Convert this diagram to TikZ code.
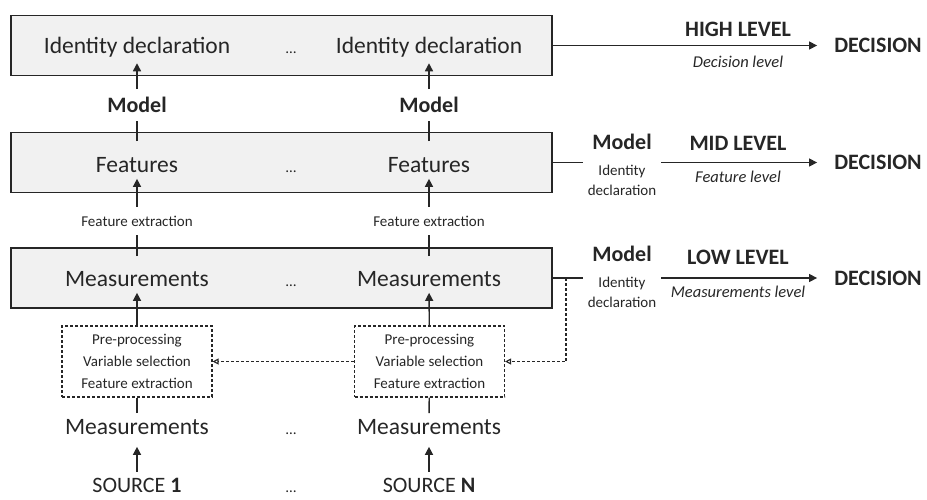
\documentclass[tikz,border=0pt]{standalone}
\usepackage{fontspec}
\setmainfont{Carlito}
\usepackage{xcolor}
\usetikzlibrary{arrows.meta}

\definecolor{ink}{HTML}{262626}
\definecolor{boxfill}{HTML}{F1F1F1}

\begin{document}
\begin{tikzpicture}[x=1pt, y=-1pt, color=ink, text=ink,
        levelbox/.style={draw, line width=1.8pt, fill=boxfill, minimum width=541, minimum height=60},
        big/.style={font=\fontsize{23.5}{28}\selectfont, inner sep=6pt},
        small/.style={font=\fontsize{15}{20}\selectfont, inner xsep=2pt, inner ysep=9pt},
        bold/.style={font=\fontsize{22}{26}\selectfont\bfseries, inner xsep=2pt, inner ysep=8pt},
        note/.style={font=\fontsize{16.5}{20}\selectfont\itshape, inner sep=2pt},
        dots/.style={font=\fontsize{15}{20}\selectfont, anchor=base, inner sep=0pt},
        group/.style={align=center, font=\fontsize{15}{20}\selectfont, inner sep=5pt},
        stepbox/.style={draw, line width=1.1pt, dash pattern=on 3pt off 2pt, minimum width=150, minimum height=71,
            align=center, font=\fontsize{15}{22}\selectfont},
        ln/.style={line width=1.4pt},
        arr/.style={line width=1.4pt, -{Triangle[length=8pt,width=8pt]}},
        fback/.style={line width=1.1pt, dash pattern=on 3pt off 2pt, -{Triangle[open,length=6pt,width=6pt]}}]
    \useasboundingbox (0,0) rectangle (927,499);

    \node[levelbox] (hbox) at (281.5,45.5) {};
    \node[levelbox] (fbox) at (281.5,162.5) {};
    \node[levelbox] (mbox) at (281.5,278) {};

    \node[big] (id1) at (137,47) {Identity declaration};
    \node[big] (id2) at (429,47) {Identity declaration};
    \node[dots] (d1) at (291,53) {…};
    \node[bold] (mod1) at (137,105) {Model};
    \node[bold] (mod2) at (429,105) {Model};
    \node[big] (feat1) at (137,165) {Features};
    \node[big] (feat2) at (429,165) {Features};
    \node[dots] (d2) at (291,172) {…};
    \node[small] (fex1) at (137,221) {Feature extraction};
    \node[small] (fex2) at (429,221) {Feature extraction};
    \node[big] (meas1) at (137,279) {Measurements};
    \node[big] (meas2) at (429,279) {Measurements};
    \node[dots] (d3) at (291,286) {…};
    \node[stepbox] (pre1) at (137,361.5) {Pre-processing\\Variable selection\\Feature extraction};
    \node[stepbox] (pre2) at (429.5,361.5) {Pre-processing\\Variable selection\\Feature extraction};
    \node[big] (raw1) at (137,427) {Measurements};
    \node[big] (raw2) at (429,427) {Measurements};
    \node[dots] (d4) at (291,434) {…};
    \node[big, font=\fontsize{22}{26}\selectfont] (src1) at (137,485) {SOURCE \textbf{1}};
    \node[big, font=\fontsize{22}{26}\selectfont] (src2) at (429,485) {SOURCE \textbf{N}};
    \node[dots] (d5) at (291,492) {…};

    \draw[arr] (mod1) -- (id1);
    \draw[arr] (mod2) -- (id2);
    \draw[ln, shorten <=10pt] (feat1) -- (mod1);
    \draw[ln, shorten <=10pt] (feat2) -- (mod2);
    \draw[arr] (fex1) -- (feat1);
    \draw[arr] (fex2) -- (feat2);
    \draw[ln, shorten <=9pt] (meas1) -- (fex1);
    \draw[ln, shorten <=9pt] (meas2) -- (fex2);
    \draw[arr] (pre1) -- (meas1);
    \draw[arr] (pre2) -- (meas2);
    \draw[ln] (raw1) -- (pre1);
    \draw[ln] (raw2) -- (pre2);
    \draw[arr, shorten >=6pt] (src1) -- (raw1);
    \draw[arr, shorten >=6pt] (src2) -- (raw2);

    \node[bold, inner sep=2pt] (dec1) at (878,45.5) {DECISION};
    \node[bold, inner sep=2pt] (dec2) at (878,162.5) {DECISION};
    \node[bold, inner sep=2pt] (dec3) at (878,278) {DECISION};
    \node[group] (grp2) at (622,165) {{\fontsize{22}{26}\selectfont\bfseries Model}\\[6pt]Identity\\declaration};
    \node[group] (grp3) at (622,277) {{\fontsize{22}{26}\selectfont\bfseries Model}\\[6pt]Identity\\declaration};

    \node[bold, inner sep=2pt] (high) at (738,29) {HIGH LEVEL};
    \node[note] (highsub) at (738,62) {Decision level};
    \node[bold, inner sep=2pt] (mid) at (738,143) {MID LEVEL};
    \node[note] (midsub) at (738,177) {Feature level};
    \node[bold, inner sep=2pt] (low) at (738,257) {LOW LEVEL};
    \node[note] (lowsub) at (738,292) {Measurements level};

    \draw[arr, shorten >=15pt] (hbox.east) -- (dec1);
    \draw[ln] (fbox.east) -- (fbox.east -| grp2.west);
    \draw[arr, shorten >=15pt] (fbox.east -| grp2.east) -- (dec2);
    \draw[ln] (mbox.east) -- (mbox.east -| grp3.west);
    \draw[arr, shorten >=15pt] (mbox.east -| grp3.east) -- (dec3);

    \coordinate (fb) at (566,278);
    \draw[fback] (fb) |- (pre2.east);
    \draw[fback] (pre2.west) -- (pre1.east);
\end{tikzpicture}
\end{document}
